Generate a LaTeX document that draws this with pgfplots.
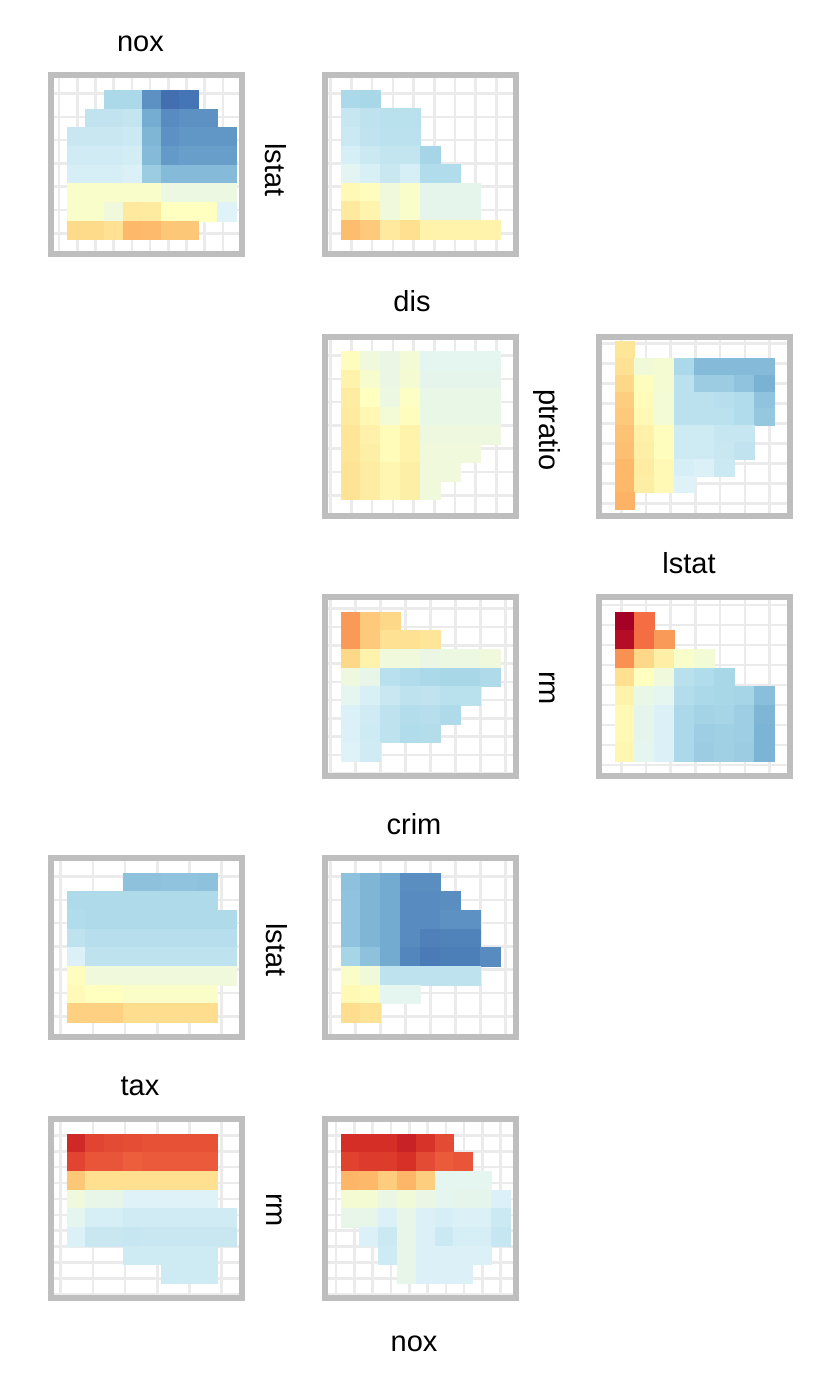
\documentclass[border=0pt]{standalone}
\usepackage{fontspec}
\setmainfont{Liberation Sans}
\usepackage{pgfplots}
\pgfplotsset{compat=1.18}
\definecolor{framegray}{RGB}{190,190,190}
\definecolor{gridgray}{RGB}{235,235,235}

% RdYlBu, 0 = dark red ... 10 = dark blue
\pgfplotsset{
  colormap={rdylbu}{rgb255=(165,0,38) rgb255=(215,48,39) rgb255=(244,109,67)
    rgb255=(253,174,97) rgb255=(254,224,144) rgb255=(255,255,191)
    rgb255=(224,243,248) rgb255=(171,217,233) rgb255=(116,173,209)
    rgb255=(69,117,180) rgb255=(49,54,149)},
  panel/.style={scale only axis, width=190.7pt, height=178.7pt, anchor=south west,
    xmin=0, xmax=190.7, ymin=0, ymax=178.7,
    axis line style={draw=framegray, line width=6pt, line cap=rect},
    xmajorgrids, ymajorgrids, grid style={draw=gridgray, line width=2.6pt},
    major tick length=0pt, tick style={draw=none}, xticklabels={}, yticklabels={},
    colormap name=rdylbu, point meta min=0, point meta max=10, clip=false},
  % #1 cell width, #2 cell height, #3 bottom offset, #4 mark size, #5 xscale
  cells/.style n args={5}{scatter, only marks, mark=square*, point meta=explicit,
    scatter/use mapped color={draw=mapped color, fill=mapped color},
    mark size=#4, mark options={xscale=#5, line width=0.3pt},
    x filter/.expression={15.7+#1*(x+0.5)},
    y filter/.expression={#3+#2*(y+0.5)}},
}

\begin{document}
\begin{tikzpicture}[every node/.style={font=\fontsize{29}{33}\selectfont, text=black}]
\path[use as bounding box] (0pt,0pt) rectangle (830pt,-1384pt);

% ---- row 1
\begin{axis}[panel, at={(51pt,-253.7pt)}, xtick={8,26.2,...,173}, ytick={20.4,43.7,...,162}]
\addplot[cells={18.8}{18.7}{14.1}{9.35pt}{1.005}] table[x=c,y=r,meta=m,row sep=\\] {
c r m\\
2 7 7.0\\ 3 7 7.0\\ 4 7 8.5\\ 5 7 9.1\\ 6 7 9.0\\
1 6 6.6\\ 2 6 6.6\\ 3 6 6.55\\ 4 6 8.0\\ 5 6 8.6\\ 6 6 8.5\\ 7 6 8.5\\
0 5 6.45\\ 1 5 6.45\\ 2 5 6.45\\ 3 5 6.4\\ 4 5 7.8\\ 5 5 8.5\\ 6 5 8.4\\ 7 5 8.4\\ 8 5 8.4\\
0 4 6.3\\ 1 4 6.3\\ 2 4 6.3\\ 3 4 6.25\\ 4 4 7.7\\ 5 4 8.35\\ 6 4 8.25\\ 7 4 8.25\\ 8 4 8.25\\
0 3 6.2\\ 1 3 6.2\\ 2 3 6.2\\ 3 3 6.1\\ 4 3 7.3\\ 5 3 7.7\\ 6 3 7.7\\ 7 3 7.7\\ 8 3 7.7\\
0 2 5.2\\ 1 2 5.2\\ 2 2 5.2\\ 3 2 5.2\\ 4 2 5.2\\ 5 2 5.6\\ 6 2 5.6\\ 7 2 5.6\\ 8 2 5.6\\
0 1 5.2\\ 1 1 5.2\\ 2 1 5.5\\ 3 1 4.3\\ 4 1 4.35\\ 5 1 5.0\\ 6 1 5.0\\ 7 1 5.0\\ 8 1 6.0\\
0 0 3.9\\ 1 0 3.9\\ 2 0 4.05\\ 3 0 3.2\\ 4 0 3.25\\ 5 0 3.5\\ 6 0 3.5\\
};
\end{axis}

\begin{axis}[panel, at={(325pt,-253.7pt)}, xtick={5.7,26.4,...,173}, ytick={20.4,43.7,...,162}]
\addplot[cells={19.87}{18.6}{14.9}{9.3pt}{1.068}] table[x=c,y=r,meta=m,row sep=\\] {
c r m\\
0 7 7.0\\ 1 7 7.05\\
0 6 6.5\\ 1 6 6.65\\ 2 6 6.75\\ 3 6 6.75\\
0 5 6.4\\ 1 5 6.6\\ 2 5 6.7\\ 3 5 6.7\\
0 4 6.2\\ 1 4 6.4\\ 2 4 6.55\\ 3 4 6.55\\ 4 4 7.1\\
0 3 5.9\\ 1 3 6.15\\ 2 3 6.45\\ 3 3 6.2\\ 4 3 6.9\\ 5 3 6.9\\
0 2 4.8\\ 1 2 4.95\\ 2 2 5.5\\ 3 2 5.2\\ 4 2 5.8\\ 5 2 5.8\\ 6 2 5.8\\
0 1 4.3\\ 1 1 4.65\\ 2 1 5.5\\ 3 1 5.2\\ 4 1 5.8\\ 5 1 5.8\\ 6 1 5.8\\
0 0 3.3\\ 1 0 3.55\\ 2 0 4.3\\ 3 0 4.0\\ 4 0 4.6\\ 5 0 4.6\\ 6 0 4.6\\ 7 0 4.6\\
};
\end{axis}

% ---- row 2
\begin{axis}[panel, at={(325pt,-515.7pt)}, xtick={5.7,26.4,...,173}, ytick={20.4,43.7,...,162}]
\addplot[cells={19.87}{18.53}{16.1}{9.27pt}{1.072}] table[x=c,y=r,meta=m,row sep=\\] {
c r m\\
0 7 4.95\\ 1 7 5.5\\ 2 7 5.65\\ 3 7 5.4\\ 4 7 5.85\\ 5 7 5.85\\ 6 7 5.85\\ 7 7 5.85\\
0 6 4.6\\ 1 6 5.25\\ 2 6 5.65\\ 3 6 5.35\\ 4 6 5.8\\ 5 6 5.8\\ 6 6 5.8\\ 7 6 5.8\\
0 5 4.4\\ 1 5 5.0\\ 2 5 5.6\\ 3 5 5.1\\ 4 5 5.7\\ 5 5 5.7\\ 6 5 5.7\\ 7 5 5.7\\
0 4 4.35\\ 1 4 4.75\\ 2 4 5.4\\ 3 4 4.95\\ 4 4 5.7\\ 5 4 5.7\\ 6 4 5.7\\ 7 4 5.7\\
0 3 4.15\\ 1 3 4.55\\ 2 3 4.9\\ 3 3 4.6\\ 4 3 5.55\\ 5 3 5.55\\ 6 3 5.55\\ 7 3 5.55\\
0 2 4.2\\ 1 2 4.5\\ 2 2 4.9\\ 3 2 4.6\\ 4 2 5.5\\ 5 2 5.5\\ 6 2 5.5\\
0 1 4.1\\ 1 1 4.4\\ 2 1 4.7\\ 3 1 4.5\\ 4 1 5.5\\ 5 1 5.5\\
0 0 4.1\\ 1 0 4.4\\ 2 0 4.7\\ 3 0 4.5\\ 4 0 5.5\\
};
\end{axis}

\begin{axis}[panel, at={(599pt,-515.7pt)}, xtick={22.3,47,...,172}, ytick={12,32,...,173}]
\addplot[cells={19.87}{16.8}{6.4}{8.4pt}{1.183}] table[x=c,y=r,meta=m,row sep=\\] {
c r m\\
0 9 4.2\\
0 8 4.05\\ 1 8 5.45\\ 2 8 5.35\\ 3 8 7.0\\ 4 8 7.7\\ 5 8 7.7\\ 6 8 7.7\\ 7 8 7.7\\
0 7 3.85\\ 1 7 4.95\\ 2 7 5.35\\ 3 7 6.7\\ 4 7 7.3\\ 5 7 7.3\\ 6 7 7.5\\ 7 7 7.9\\
0 6 3.65\\ 1 6 4.9\\ 2 6 5.4\\ 3 6 6.7\\ 4 6 6.7\\ 5 6 6.8\\ 6 6 6.9\\ 7 6 7.5\\
0 5 3.55\\ 1 5 4.8\\ 2 5 5.4\\ 3 5 6.7\\ 4 5 6.7\\ 5 5 6.7\\ 6 5 6.9\\ 7 5 7.4\\
0 4 3.4\\ 1 4 4.55\\ 2 4 4.95\\ 3 4 6.35\\ 4 4 6.35\\ 5 4 6.5\\ 6 4 6.5\\
0 3 3.35\\ 1 3 4.5\\ 2 3 4.95\\ 3 3 6.35\\ 4 3 6.35\\ 5 3 6.45\\ 6 3 6.6\\
0 2 3.2\\ 1 2 4.4\\ 2 2 4.8\\ 3 2 6.2\\ 4 2 6.1\\ 5 2 6.4\\
0 1 3.2\\ 1 1 4.45\\ 2 1 4.8\\ 3 1 6.05\\
0 0 3.1\\
};
\end{axis}

% ---- row 3
\begin{axis}[panel, at={(325pt,-775.7pt)}, xtick={5.7,30.7,...,183}, ytick={2.4,20.7,...,169}]
\addplot[cells={19.87}{18.67}{14.7}{9.33pt}{1.064}] table[x=c,y=r,meta=m,row sep=\\] {
c r m\\
0 7 2.7\\ 1 7 3.55\\ 2 7 3.85\\
0 6 2.7\\ 1 6 3.55\\ 2 6 4.05\\ 3 6 4.05\\ 4 6 4.15\\
0 5 3.85\\ 1 5 4.6\\ 2 5 5.5\\ 3 5 5.5\\ 4 5 5.65\\ 5 5 5.6\\ 6 5 5.6\\ 7 5 5.5\\
0 4 5.55\\ 1 4 5.75\\ 2 4 6.75\\ 3 4 6.9\\ 4 4 7.0\\ 5 4 7.05\\ 6 4 7.05\\ 7 4 6.95\\
0 3 5.85\\ 1 3 6.15\\ 2 3 6.45\\ 3 3 6.65\\ 4 3 6.6\\ 5 3 6.75\\ 6 3 6.75\\
0 2 6.1\\ 1 2 6.3\\ 2 2 6.65\\ 3 2 6.85\\ 4 2 6.8\\ 5 2 6.95\\
0 1 6.1\\ 1 1 6.35\\ 2 1 6.65\\ 3 1 6.9\\ 4 1 6.85\\
0 0 6.05\\ 1 0 6.3\\
};
\end{axis}

\begin{axis}[panel, at={(599pt,-775.7pt)}, xtick={22.3,47,...,172}, ytick={10.7,30.7,...,172}]
\addplot[cells={19.87}{18.67}{14.7}{9.33pt}{1.064}] table[x=c,y=r,meta=m,row sep=\\] {
c r m\\
0 7 0.0\\ 1 7 2.0\\
0 6 0.3\\ 1 6 2.0\\ 2 6 2.7\\
0 5 2.55\\ 1 5 3.85\\ 2 5 4.5\\ 3 5 5.2\\ 4 5 5.4\\
0 4 4.0\\ 1 4 5.0\\ 2 4 5.5\\ 3 4 6.75\\ 4 4 6.9\\ 5 4 7.05\\
0 3 4.6\\ 1 3 5.7\\ 2 3 5.85\\ 3 3 6.85\\ 4 3 7.0\\ 5 3 7.05\\ 6 3 7.1\\ 7 3 7.6\\
0 2 4.8\\ 1 2 5.8\\ 2 2 6.1\\ 3 2 7.0\\ 4 2 7.15\\ 5 2 7.1\\ 6 2 7.25\\ 7 2 7.8\\
0 1 4.8\\ 1 1 5.8\\ 2 1 6.1\\ 3 1 7.0\\ 4 1 7.25\\ 5 1 7.2\\ 6 1 7.25\\ 7 1 7.85\\
0 0 4.7\\ 1 0 5.85\\ 2 0 6.1\\ 3 0 7.0\\ 4 0 7.3\\ 5 0 7.2\\ 6 0 7.3\\ 7 0 7.85\\
};
\end{axis}

% ---- row 4
\begin{axis}[panel, at={(51pt,-1036.7pt)}, xtick={9.7,41.9,...,172}, ytick={20.4,43.7,...,162}]
\addplot[cells={18.8}{18.63}{14.7}{9.32pt}{1.009}] table[x=c,y=r,meta=m,row sep=\\] {
c r m\\
3 7 7.55\\ 4 7 7.55\\ 5 7 7.5\\ 6 7 7.5\\ 7 7 7.55\\
0 6 6.95\\ 1 6 6.95\\ 2 6 6.95\\ 3 6 6.95\\ 4 6 6.95\\ 5 6 6.95\\ 6 6 6.95\\ 7 6 6.95\\
0 5 6.9\\ 1 5 6.95\\ 2 5 6.95\\ 3 5 6.95\\ 4 5 6.95\\ 5 5 6.95\\ 6 5 6.95\\ 7 5 6.95\\ 8 5 6.95\\
0 4 6.65\\ 1 4 6.8\\ 2 4 6.8\\ 3 4 6.8\\ 4 4 6.8\\ 5 4 6.8\\ 6 4 6.8\\ 7 4 6.8\\ 8 4 6.8\\
0 3 6.1\\ 1 3 6.65\\ 2 3 6.65\\ 3 3 6.65\\ 4 3 6.65\\ 5 3 6.65\\ 6 3 6.65\\ 7 3 6.65\\ 8 3 6.65\\
0 2 4.95\\ 1 2 5.5\\ 2 2 5.5\\ 3 2 5.5\\ 4 2 5.5\\ 5 2 5.5\\ 6 2 5.5\\ 7 2 5.5\\ 8 2 5.5\\
0 1 4.85\\ 1 1 5.0\\ 2 1 5.0\\ 3 1 5.15\\ 4 1 5.15\\ 5 1 5.15\\ 6 1 5.15\\ 7 1 5.15\\
0 0 3.7\\ 1 0 3.7\\ 2 0 3.7\\ 3 0 3.95\\ 4 0 3.95\\ 5 0 3.95\\ 6 0 3.95\\ 7 0 3.95\\
};
\end{axis}

\begin{axis}[panel, at={(325pt,-1036.7pt)}, xtick={5.7,30.7,...,183}, ytick={20.4,43.7,...,162}]
\addplot[cells={19.87}{18.63}{14.7}{9.32pt}{1.067}] table[x=c,y=r,meta=m,row sep=\\] {
c r m\\
0 7 7.55\\ 1 7 7.8\\ 2 7 8.05\\ 3 7 8.55\\ 4 7 8.55\\
0 6 7.5\\ 1 6 7.8\\ 2 6 8.05\\ 3 6 8.6\\ 4 6 8.6\\ 5 6 8.55\\
0 5 7.5\\ 1 5 7.8\\ 2 5 8.05\\ 3 5 8.6\\ 4 5 8.6\\ 5 5 8.5\\ 6 5 8.5\\
0 4 7.5\\ 1 4 7.8\\ 2 4 8.05\\ 3 4 8.6\\ 4 4 8.8\\ 5 4 8.75\\ 6 4 8.75\\
0 3 7.1\\ 1 3 7.55\\ 2 3 8.05\\ 3 3 8.7\\ 4 3 8.9\\ 5 3 8.85\\ 6 3 8.85\\ 7 3 8.6\\
0 2 5.15\\ 1 2 5.45\\ 2 2 6.65\\ 3 2 6.65\\ 4 2 6.65\\ 5 2 6.65\\ 6 2 6.65\\
0 1 4.8\\ 1 1 4.9\\ 2 1 5.85\\ 3 1 5.85\\
0 0 3.95\\ 1 0 4.1\\
};
\end{axis}

% ---- row 5
\begin{axis}[panel, at={(51pt,-1297.7pt)}, xtick={9.7,41.9,...,172}, ytick={3.4,19.3,...,164}]
\addplot[cells={18.8}{18.63}{14.7}{9.32pt}{1.009}] table[x=c,y=r,meta=m,row sep=\\] {
c r m\\
0 7 0.85\\ 1 7 1.35\\ 2 7 1.45\\ 3 7 1.5\\ 4 7 1.55\\ 5 7 1.55\\ 6 7 1.55\\ 7 7 1.55\\
0 6 1.35\\ 1 6 1.6\\ 2 6 1.6\\ 3 6 1.75\\ 4 6 1.7\\ 5 6 1.7\\ 6 6 1.7\\ 7 6 1.7\\
0 5 3.5\\ 1 5 4.0\\ 2 5 4.0\\ 3 5 4.0\\ 4 5 4.0\\ 5 5 4.0\\ 6 5 4.0\\ 7 5 4.0\\
0 4 5.5\\ 1 4 5.75\\ 2 4 5.75\\ 3 4 6.05\\ 4 4 6.05\\ 5 4 6.05\\ 6 4 6.05\\ 7 4 6.05\\
0 3 5.85\\ 1 3 6.2\\ 2 3 6.2\\ 3 3 6.3\\ 4 3 6.3\\ 5 3 6.3\\ 6 3 6.3\\ 7 3 6.3\\ 8 3 6.3\\
0 2 6.1\\ 1 2 6.45\\ 2 2 6.45\\ 3 2 6.5\\ 4 2 6.45\\ 5 2 6.45\\ 6 2 6.45\\ 7 2 6.45\\ 8 2 6.45\\
3 1 6.35\\ 4 1 6.35\\ 5 1 6.35\\ 6 1 6.35\\ 7 1 6.35\\
5 0 6.35\\ 6 0 6.35\\ 7 0 6.35\\
};
\end{axis}

\begin{axis}[panel, at={(325pt,-1297.7pt)}, xtick={11,29.3,...,177}, ytick={3.4,19.3,...,164}]
\addplot[cells={18.8}{18.63}{14.7}{9.32pt}{1.009}] table[x=c,y=r,meta=m,row sep=\\] {
c r m\\
0 7 0.95\\ 1 7 0.95\\ 2 7 0.95\\ 3 7 0.7\\ 4 7 1.05\\ 5 7 1.45\\
0 6 1.3\\ 1 6 1.2\\ 2 6 1.2\\ 3 6 1.0\\ 4 6 1.45\\ 5 6 1.7\\ 6 6 1.6\\
0 5 3.15\\ 1 5 3.2\\ 2 5 3.6\\ 3 5 3.15\\ 4 5 3.65\\ 5 5 5.85\\ 6 5 5.85\\ 7 5 5.85\\
0 4 5.35\\ 1 4 5.35\\ 2 4 5.65\\ 3 4 5.45\\ 4 4 5.65\\ 5 4 5.85\\ 6 4 5.8\\ 7 4 5.8\\ 8 4 6.1\\
0 3 5.75\\ 1 3 5.75\\ 2 3 6.1\\ 3 3 5.75\\ 4 3 6.1\\ 5 3 6.2\\ 6 3 6.1\\ 7 3 6.1\\ 8 3 6.4\\
1 2 6.1\\ 2 2 6.4\\ 3 2 5.75\\ 4 2 6.1\\ 5 2 6.4\\ 6 2 6.2\\ 7 2 6.2\\ 8 2 6.5\\
2 1 6.35\\ 3 1 5.75\\ 4 1 6.1\\ 5 1 6.1\\ 6 1 6.1\\ 7 1 6.1\\
3 0 5.75\\ 4 0 6.1\\ 5 0 6.1\\ 6 0 6.1\\
};
\end{axis}

% ---- variable names
\node[anchor=base] at (140.5pt,-51pt) {nox};
\node[rotate=-90] at (276pt,-170pt) {lstat};
\node[anchor=base] at (412pt,-311.7pt) {dis};
\node[rotate=-90] at (547pt,-430pt) {ptratio};
\node[anchor=base] at (689pt,-573pt) {lstat};
\node[rotate=-90] at (547pt,-688pt) {rm};
\node[anchor=base] at (414pt,-834pt) {crim};
\node[rotate=-90] at (277pt,-950pt) {lstat};
\node[anchor=base] at (140pt,-1095pt) {tax};
\node[rotate=-90] at (274pt,-1210pt) {rm};
\node[anchor=base] at (414pt,-1351pt) {nox};
\end{tikzpicture}
\end{document}
